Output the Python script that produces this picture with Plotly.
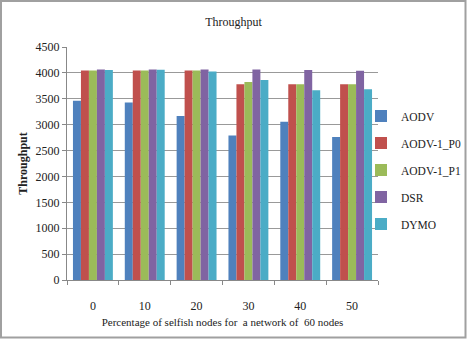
import plotly.graph_objects as go

categories = ["0", "10", "20", "30", "40", "50"]
aodv = [3460, 3430, 3165, 2790, 3055, 2760]
aodv_p0 = [4045, 4045, 4045, 3780, 3780, 3780]
aodv_p1 = [4045, 4045, 4045, 3825, 3780, 3780]
dsr = [4065, 4065, 4065, 4065, 4055, 4040]
dymo = [4055, 4060, 4025, 3865, 3665, 3685]

series = [
    ("AODV", aodv, "#4F81BD"),
    ("AODV-1_P0", aodv_p0, "#C0504D"),
    ("AODV-1_P1", aodv_p1, "#9BBB59"),
    ("DSR", dsr, "#8064A2"),
    ("DYMO", dymo, "#4BACC6"),
]

FONT = "Liberation Serif"

fig = go.Figure()
for name, vals, col in series:
    fig.add_trace(go.Bar(x=categories, y=vals, name=name, marker_color=col,
                         marker_line_width=0, legendgroup=name))

L, R, T, B = 67, 89, 47, 59
W, H = 467, 339
pw, ph = W - L - R, H - T - B

fig.update_layout(
    width=W, height=H,
    margin=dict(l=L, r=R, t=T, b=B, autoexpand=False),
    paper_bgcolor="white", plot_bgcolor="white",
    barmode="group", bargap=0.23, bargroupgap=0,
    font=dict(family=FONT, size=12, color="#222"),
    title=dict(text="Throughput", x=0.5, xref="container", xanchor="center",
               y=1 - 22 / H, yanchor="middle", font=dict(size=12, family=FONT)),
    xaxis=dict(type="category", showgrid=False, showline=True, linecolor="#888",
               linewidth=1, ticks="outside", tickson="boundaries", ticklen=4,
               tickcolor="#888", tickfont=dict(size=12, family=FONT), automargin=False,
               ticklabelstandoff=15,
               title=dict(text="Percentage of selfish nodes for  a network of  60 nodes",
                          font=dict(size=11, family=FONT), standoff=5)),
    yaxis=dict(range=[0, 4500], dtick=500, showgrid=True, gridcolor="#999",
               gridwidth=1, showline=True, linecolor="#888", linewidth=1,
               ticks="outside", ticklen=4, tickcolor="#888", automargin=False,
               tickfont=dict(size=12, family=FONT), zeroline=False,
               title=dict(text="<b>Throughput</b>", font=dict(size=12, family=FONT),
                          standoff=5)),
    legend=dict(xref="container", yref="container",
                x=361 / W, xanchor="left",
                y=1 - 170 / H, yanchor="middle",
                font=dict(size=11.5, family=FONT), tracegroupgap=8,
                itemwidth=30, bgcolor="rgba(0,0,0,0)"),
    shapes=[dict(type="rect", xref="paper", yref="paper",
                 x0=-(L - 1) / pw, x1=1 + (R - 1.5) / pw,
                 y0=-(B - 1.5) / ph, y1=1 + (T - 1) / ph,
                 line=dict(color="#a0a0a0", width=2), layer="below")],
)

fig.write_html("out.html", config={"displayModeBar": False},
               post_script="document.body.style.margin='0';document.body.style.overflow='hidden';")
